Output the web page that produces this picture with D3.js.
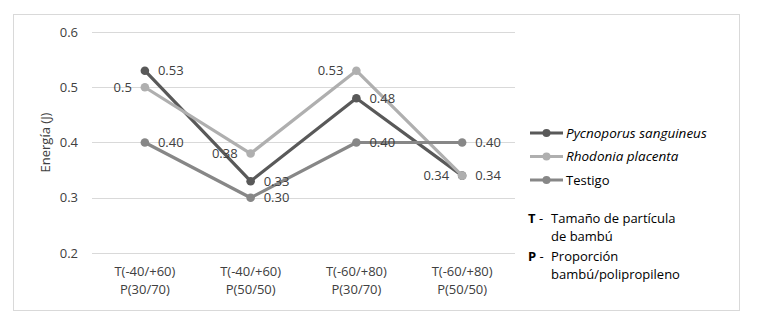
<!DOCTYPE html>
<html>
<head>
<meta charset="utf-8">
<script src="https://cdn.jsdelivr.net/npm/d3@7"></script>
<style>
  body { margin: 0; background: #fff; }
  text { font-family: "Open Sans", sans-serif; fill: #404040; }
</style>
</head>
<body>
<script>
// data
const categories = ["T(-40/+60)\nP(30/70)", "T(-40/+60)\nP(50/50)", "T(-60/+80)\nP(30/70)", "T(-60/+80)\nP(50/50)"];
const pycnoporus = [0.53, 0.33, 0.48, 0.34];
const rhodonia = [0.50, 0.38, 0.53, 0.34];
const testigo = [0.40, 0.30, 0.40, 0.40];
const pycLabels = ["0.53", "0.33", "0.48", "0.34"];
const rhoLabels = ["0.5", "0.38", "0.53", "0.34"];
const tesLabels = ["0.40", "0.30", "0.40", "0.40"];
const yTicks = [0.2, 0.3, 0.4, 0.5, 0.6];

const series = [
  {name: "Pycnoporus sanguineus", values: pycnoporus, labels: pycLabels, color: "#595959", italic: true, side: "right"},
  {name: "Rhodonia placenta", values: rhodonia, labels: rhoLabels, color: "#afafaf", italic: true, side: "left"},
  {name: "Testigo", values: testigo, labels: tesLabels, color: "#878787", italic: false, side: "right"}
];

const width = 757, height = 326;
const svg = d3.select("body").append("svg")
  .attr("width", width).attr("height", height);

// chart border
svg.append("rect")
  .attr("x", 13.5).attr("y", 14.5)
  .attr("width", 726).attr("height", 296)
  .attr("fill", "none").attr("stroke", "#d9d9d9");

const x = d3.scaleBand().domain(d3.range(categories.length)).range([92, 515]);
const y = d3.scaleLinear().domain([0.2, 0.6]).range([253, 32]);

// grid
svg.append("g").selectAll("line")
  .data(yTicks).join("line")
  .attr("x1", 92).attr("x2", 515)
  .attr("y1", d => Math.round(y(d)) + 0.5).attr("y2", d => Math.round(y(d)) + 0.5)
  .attr("stroke", "#d9d9d9");

svg.append("g").selectAll("text")
  .data(yTicks).join("text")
  .attr("x", 78).attr("y", d => y(d)).attr("dy", "0.35em")
  .attr("text-anchor", "end").style("font-size", "13px")
  .text(d3.format(".1f"));

// x labels
const xl = svg.append("g").selectAll("text")
  .data(categories).join("text")
  .attr("text-anchor", "middle").style("font-size", "13px")
  .attr("transform", (d, i) => `translate(${x(i) + x.bandwidth() / 2},276)`);
xl.selectAll("tspan").data(d => d.split("\n")).join("tspan")
  .attr("x", 0).attr("dy", (d, i) => i ? 17.5 : 0).text(d => d);

// axis title
svg.append("text")
  .attr("transform", `translate(50,${y(0.4)}) rotate(-90)`)
  .attr("text-anchor", "middle").style("font-size", "13px")
  .text("Energía (J)");

const cx = i => x(i) + x.bandwidth() / 2;
const line = d3.line().x((d, i) => cx(i)).y(d => y(d));

const g = svg.append("g").selectAll("g").data(series).join("g");
g.append("path")
  .attr("d", d => line(d.values))
  .attr("fill", "none").attr("stroke", d => d.color)
  .attr("stroke-width", 3.2).attr("stroke-linejoin", "round");
g.selectAll("circle").data(d => d.values.map(v => ({v, c: d.color}))).join("circle")
  .attr("cx", (d, i) => cx(i)).attr("cy", d => y(d.v))
  .attr("r", 4.3).attr("fill", d => d.c);

// data labels
const lbl = svg.append("g");
series.forEach(s => {
  s.values.forEach((v, i) => {
    lbl.append("text")
      .attr("x", cx(i) + (s.side === "right" ? 13 : -13))
      .attr("y", y(v)).attr("dy", "0.35em")
      .attr("text-anchor", s.side === "right" ? "start" : "end")
      .style("font-size", "13px")
      .text(s.labels[i]);
  });
});

// legend
const leg = svg.append("g").selectAll("g").data(series).join("g")
  .attr("transform", (d, i) => `translate(530,${133 + i * 23.5})`);
leg.append("line").attr("x1", 0).attr("x2", 33)
  .attr("stroke", d => d.color).attr("stroke-width", 3.2);
leg.append("circle").attr("cx", 16.5).attr("r", 4).attr("fill", d => d.color);
leg.append("text").attr("x", 36).attr("dy", "0.35em")
  .style("font-size", d => d.italic ? "13.5px" : "13px")
  .style("font-style", d => d.italic ? "italic" : "normal")
  .style("fill", "#000")
  .text(d => d.name);

// notes
const notes = [
  {key: "T", lines: ["Tamaño de partícula", "de bambú"], y: 218},
  {key: "P", lines: ["Proporción", "bambú/polipropileno"], y: 256}
];
const ng = svg.append("g").selectAll("g").data(notes).join("g")
  .attr("transform", d => `translate(528,${d.y})`);
ng.append("text").attr("dy", "0.35em").style("font-size", "13px").style("fill", "#000")
  .html(d => `<tspan font-weight="bold">${d.key}</tspan> -`);
ng.selectAll("text.l").data(d => d.lines).join("text").attr("class", "l")
  .attr("x", 23).attr("y", (d, i) => i * 18.5).attr("dy", "0.35em")
  .style("font-size", "13px").style("fill", "#000")
  .text(d => d);
</script>
</body>
</html>
